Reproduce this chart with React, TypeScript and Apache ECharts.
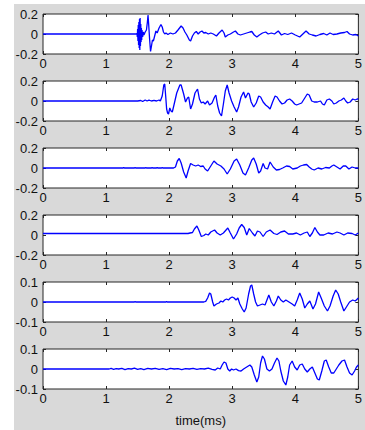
import React, { useEffect, useRef } from "react";
import * as echarts from "echarts";

const timeTicks = [0, 1, 2, 3, 4, 5];
const wideRange = [-0.2, 0.2];
const narrowRange = [-0.1, 0.1];
const xTitle = "time(ms)";

const trace1: number[][] = [
  [0, 0], [1.48, 0], [1.49, 0.005], [1.495, -0.03], [1.5, 0.05], [1.505, -0.07], [1.51, 0.09], [1.515, -0.11],
  [1.52, 0.12], [1.525, -0.14], [1.53, 0.15], [1.535, -0.16], [1.54, 0.16], [1.545, -0.12], [1.55, 0.1],
  [1.555, -0.08], [1.56, 0.06], [1.565, -0.06], [1.57, 0.04], [1.58, -0.03], [1.59, 0.02], [1.6, -0.01],
  [1.62, 0.02], [1.64, 0.04], [1.655, 0.12], [1.665, 0.19], [1.675, 0.1], [1.69, -0.05], [1.705, -0.175],
  [1.72, -0.12], [1.735, -0.06], [1.75, -0.07], [1.77, -0.02], [1.79, 0.03], [1.81, 0.01], [1.84, 0.06],
  [1.87, 0.095], [1.89, 0.07], [1.91, 0.02], [1.93, 0.0], [1.95, 0.01], [1.98, -0.005], [2.02, 0.01],
  [2.06, 0.0], [2.1, 0.01], [2.14, 0.04], [2.19, 0.08], [2.22, 0.06], [2.25, 0.02], [2.28, -0.01],
  [2.32, -0.06], [2.34, -0.07], [2.37, -0.02], [2.4, 0.01], [2.43, 0.025], [2.46, 0.0], [2.49, 0.02],
  [2.52, 0.03], [2.55, 0.01], [2.58, 0.015], [2.62, 0.0], [2.66, 0.01], [2.7, 0.0], [2.75, -0.02],
  [2.79, 0.01], [2.84, 0.04], [2.87, 0.01], [2.89, -0.03], [2.93, -0.01], [2.97, 0.0], [3.02, 0.02],
  [3.05, 0.03], [3.09, 0.0], [3.13, -0.01], [3.18, 0.0], [3.23, 0.01], [3.28, 0.02], [3.31, 0.025],
  [3.35, -0.01], [3.39, -0.03], [3.43, -0.01], [3.48, 0.01], [3.53, 0.02], [3.57, 0.0], [3.62, 0.01],
  [3.67, 0.0], [3.73, 0.03], [3.78, -0.01], [3.83, 0.005], [3.88, -0.005], [3.94, 0.01], [4.0, -0.01],
  [4.07, -0.03], [4.12, 0.0], [4.17, 0.03], [4.22, 0.0], [4.27, -0.01], [4.33, -0.02], [4.39, -0.005],
  [4.45, 0.005], [4.5, -0.01], [4.55, 0.01], [4.6, -0.005], [4.66, 0.0], [4.72, 0.01], [4.78, 0.015],
  [4.82, 0.025], [4.86, 0.0], [4.91, -0.01], [4.96, -0.005], [5.0, -0.02],
];

const trace2: number[][] = [
  [0, 0], [1.5, 0], [1.55, 0.005], [1.58, -0.005], [1.62, 0.01], [1.65, 0.0], [1.68, 0.008], [1.72, 0.0],
  [1.76, 0.006], [1.8, 0.0], [1.84, 0.01], [1.86, 0.0], [1.89, 0.05], [1.915, 0.16], [1.93, 0.17],
  [1.945, 0.05], [1.96, -0.08], [1.975, -0.12], [1.99, -0.13], [2.01, -0.07], [2.03, -0.1], [2.05, -0.11],
  [2.08, -0.03], [2.12, 0.08], [2.17, 0.16], [2.19, 0.16], [2.23, 0.07], [2.26, -0.01], [2.29, 0.03],
  [2.31, 0.04], [2.34, -0.08], [2.37, -0.03], [2.41, 0.08], [2.45, 0.12], [2.48, 0.02], [2.51, -0.02],
  [2.54, -0.01], [2.57, -0.03], [2.61, 0.0], [2.64, -0.04], [2.68, -0.02], [2.72, 0.04], [2.74, 0.06],
  [2.77, -0.05], [2.8, -0.12], [2.83, -0.15], [2.86, -0.03], [2.89, 0.1], [2.92, 0.16], [2.95, 0.08],
  [2.99, 0.0], [3.03, -0.06], [3.07, -0.11], [3.1, -0.06], [3.14, 0.04], [3.18, 0.09], [3.21, 0.03],
  [3.25, 0.08], [3.27, 0.07], [3.3, -0.01], [3.34, -0.06], [3.38, -0.02], [3.42, 0.05], [3.45, 0.04],
  [3.49, -0.01], [3.53, -0.04], [3.57, -0.06], [3.6, -0.08], [3.64, -0.01], [3.68, 0.05], [3.71, 0.04],
  [3.75, 0.0], [3.79, -0.03], [3.83, -0.02], [3.87, 0.01], [3.91, 0.02], [3.95, 0.0], [3.99, -0.03],
  [4.02, -0.04], [4.06, -0.03], [4.1, -0.02], [4.14, 0.02], [4.19, 0.07], [4.22, 0.06], [4.26, 0.0],
  [4.3, -0.01], [4.35, -0.01], [4.4, 0.0], [4.43, -0.03], [4.46, -0.04], [4.5, 0.01], [4.54, 0.02],
  [4.58, 0.0], [4.61, -0.03], [4.65, -0.02], [4.69, 0.0], [4.73, 0.01], [4.77, 0.03], [4.8, 0.0],
  [4.83, -0.02], [4.87, -0.01], [4.91, 0.02], [4.95, 0.01], [4.98, 0.02], [5.0, 0.02],
];

const trace3: number[][] = [
  [0, 0], [1.27, 0], [1.28, 0.006], [1.29, 0], [1.45, 0], [1.46, 0.005], [1.47, 0], [1.62, 0], [1.63, 0.004],
  [1.64, 0], [1.72, 0], [1.73, 0.005], [1.74, 0], [1.8, 0], [1.81, 0.006], [1.82, 0], [1.88, 0], [1.89, 0.004],
  [1.9, 0], [2.07, 0], [2.1, 0.01], [2.13, 0.07], [2.16, 0.095], [2.19, 0.05], [2.23, -0.04], [2.27, -0.1],
  [2.3, -0.03], [2.34, 0.045], [2.38, 0.03], [2.42, 0.02], [2.46, 0.03], [2.5, 0.015], [2.54, 0.02],
  [2.57, -0.01], [2.61, -0.03], [2.66, 0.02], [2.71, 0.07], [2.76, 0.04], [2.82, 0.02], [2.87, -0.01],
  [2.92, -0.06], [2.97, -0.01], [3.03, 0.07], [3.07, 0.09], [3.12, 0.03], [3.17, -0.05], [3.21, -0.07],
  [3.26, 0.0], [3.31, 0.08], [3.34, 0.1], [3.38, 0.04], [3.42, -0.05], [3.45, -0.03], [3.49, 0.045],
  [3.52, 0.0], [3.56, -0.01], [3.6, 0.06], [3.65, 0.01], [3.7, -0.02], [3.75, -0.015], [3.8, 0.0],
  [3.86, 0.02], [3.91, 0.015], [3.96, -0.01], [4.03, 0.0], [4.08, 0.02], [4.13, 0.03], [4.18, 0.035],
  [4.22, 0.01], [4.26, -0.01], [4.3, -0.02], [4.36, 0.0], [4.42, -0.01], [4.48, 0.005], [4.54, 0.0],
  [4.58, 0.02], [4.61, 0.03], [4.66, 0.01], [4.71, -0.01], [4.76, 0.02], [4.8, 0.02], [4.85, -0.01],
  [4.9, 0.01], [4.95, 0.0], [5.0, 0.0],
];

const trace4: number[][] = [
  [0, 0.015], [2.3, 0.015], [2.33, 0.02], [2.37, 0.025], [2.4, 0.06], [2.44, 0.09], [2.47, 0.05],
  [2.51, -0.015], [2.55, -0.005], [2.58, 0.01], [2.62, 0.0], [2.66, 0.03], [2.72, 0.05], [2.76, 0.02],
  [2.81, 0.0], [2.86, 0.02], [2.93, 0.07], [2.97, 0.02], [3.02, -0.04], [3.07, 0.01], [3.11, 0.07],
  [3.15, 0.105], [3.19, 0.075], [3.23, 0.0], [3.27, 0.065], [3.32, 0.02], [3.36, -0.01], [3.4, 0.04],
  [3.44, 0.03], [3.49, -0.015], [3.54, 0.03], [3.6, 0.05], [3.66, 0.015], [3.71, 0.005], [3.77, 0.03],
  [3.83, 0.04], [3.89, 0.01], [3.96, 0.01], [4.02, 0.02], [4.08, 0.0], [4.14, 0.02], [4.19, 0.03],
  [4.23, -0.015], [4.27, 0.02], [4.31, 0.075], [4.35, 0.03], [4.39, 0.0], [4.45, 0.0], [4.52, 0.02],
  [4.59, 0.01], [4.66, 0.03], [4.71, 0.02], [4.77, 0.0], [4.83, 0.02], [4.9, 0.015], [4.95, 0.0], [5.0, 0.02],
];

const trace5: number[][] = [
  [0, 0], [1.45, 0], [1.46, 0.002], [1.47, 0], [1.95, 0], [1.96, 0.002], [1.97, 0], [2.45, 0], [2.5, 0.001],
  [2.55, 0.0], [2.58, 0.003], [2.61, 0.02], [2.64, 0.045], [2.66, 0.04], [2.69, 0.0], [2.71, -0.02],
  [2.75, -0.01], [2.79, -0.005], [2.82, 0.005], [2.85, 0.0], [2.88, 0.01], [2.91, 0.015], [2.94, 0.01],
  [2.97, 0.02], [3.0, 0.025], [3.03, 0.02], [3.06, 0.01], [3.09, 0.02], [3.12, -0.01], [3.16, -0.035],
  [3.19, -0.05], [3.22, -0.03], [3.26, 0.04], [3.29, 0.08], [3.31, 0.085], [3.34, 0.04], [3.37, 0.0],
  [3.4, -0.02], [3.44, -0.015], [3.48, -0.01], [3.52, -0.015], [3.55, 0.01], [3.58, 0.035], [3.62, 0.0],
  [3.66, -0.02], [3.7, 0.005], [3.73, 0.03], [3.77, 0.01], [3.81, 0.0], [3.85, 0.01], [3.9, 0.0],
  [3.95, -0.01], [3.99, -0.02], [4.03, 0.01], [4.07, 0.045], [4.11, 0.015], [4.15, -0.03], [4.19, -0.01],
  [4.23, 0.005], [4.28, -0.035], [4.32, -0.01], [4.37, 0.05], [4.41, 0.02], [4.46, -0.02], [4.51, -0.045],
  [4.55, -0.02], [4.6, 0.03], [4.64, 0.06], [4.68, 0.04], [4.72, 0.0], [4.77, -0.045], [4.81, -0.025],
  [4.86, 0.0], [4.91, 0.01], [4.95, 0.005], [5.0, 0.02],
];

const trace6: number[][] = [
  [0, 0], [1.05, 0], [1.08, 0.003], [1.12, -0.002], [1.16, 0.002], [1.2, 0.0], [1.25, 0.003], [1.3, -0.003],
  [1.35, 0.002], [1.4, 0.0], [1.45, 0.004], [1.5, -0.002], [1.55, 0.002], [1.6, -0.003], [1.66, 0.003],
  [1.72, 0.0], [1.78, 0.003], [1.84, -0.002], [1.9, 0.002], [1.96, -0.003], [2.02, 0.003], [2.08, 0.0],
  [2.14, 0.002], [2.2, -0.003], [2.26, 0.002], [2.32, 0.0], [2.38, 0.003], [2.44, -0.002], [2.5, 0.002],
  [2.56, 0.0], [2.62, 0.004], [2.68, -0.002], [2.73, -0.005], [2.77, 0.005], [2.81, 0.0], [2.84, 0.02],
  [2.87, 0.035], [2.9, 0.03], [2.93, 0.0], [2.96, -0.01], [2.99, 0.0], [3.02, -0.005], [3.06, 0.0],
  [3.1, -0.008], [3.14, -0.01], [3.18, 0.0], [3.23, 0.01], [3.28, 0.02], [3.31, 0.01], [3.35, -0.03],
  [3.39, -0.065], [3.42, -0.04], [3.45, 0.03], [3.48, 0.065], [3.51, 0.05], [3.55, 0.0], [3.59, -0.01],
  [3.63, 0.0], [3.67, 0.03], [3.71, 0.055], [3.74, 0.04], [3.77, -0.01], [3.81, -0.06], [3.85, -0.08],
  [3.88, -0.04], [3.91, 0.02], [3.95, 0.04], [3.99, 0.01], [4.03, -0.005], [4.07, 0.02], [4.11, 0.025],
  [4.15, 0.0], [4.19, -0.015], [4.23, 0.0], [4.27, 0.01], [4.31, -0.02], [4.35, -0.05], [4.38, -0.055],
  [4.42, -0.01], [4.46, 0.04], [4.49, 0.045], [4.53, 0.01], [4.57, -0.02], [4.61, -0.02], [4.65, 0.0],
  [4.69, 0.02], [4.74, 0.04], [4.78, 0.045], [4.82, 0.01], [4.86, -0.02], [4.9, -0.03], [4.94, -0.01],
  [4.97, 0.01], [5.0, 0.02],
];

const traces = [trace1, trace2, trace3, trace4, trace5, trace6];
const ranges = [wideRange, wideRange, wideRange, wideRange, narrowRange, narrowRange];

export default function App() {
  const ref = useRef<HTMLDivElement>(null);

  useEffect(() => {
    if (!ref.current) return;
    const chart = echarts.init(ref.current, null, { renderer: "svg" });
    const font = "'Liberation Sans', Arial, sans-serif";
    const textColor = "#111111";
    const axisColor = "#262626";
    const tickStyle = { show: true, inside: true, length: 3, lineStyle: { color: axisColor, width: 1 } };
    const noLine = { show: false, onZero: false };
    const grids: any[] = [];
    const xAxes: any[] = [];
    const yAxes: any[] = [];
    const series: any[] = [];
    const n = traces.length;
    const xInterval = timeTicks[1] - timeTicks[0];
    traces.forEach((tr, i) => {
      const top = 14 + 67 * i;
      grids.push({
        left: 43,
        top,
        width: 320,
        height: 40,
        show: true,
        backgroundColor: "#ffffff",
        borderColor: axisColor,
        borderWidth: 1,
      });
      const r = ranges[i];
      const yInterval = r[1];
      xAxes.push({
        type: "value",
        gridIndex: i,
        position: "bottom",
        min: timeTicks[0],
        max: timeTicks[timeTicks.length - 1],
        interval: xInterval,
        axisLine: noLine,
        axisTick: tickStyle,
        splitLine: { show: false },
        axisLabel: { margin: 3, fontSize: 13, fontFamily: font, color: textColor, showMaxLabel: true, showMinLabel: true },
        ...(i === n - 1
          ? {
              name: xTitle,
              nameLocation: "middle",
              nameGap: 25,
              nameTextStyle: { fontSize: 13, fontFamily: font, color: textColor },
            }
          : {}),
      });
      xAxes.push({
        type: "value",
        gridIndex: i,
        position: "top",
        min: timeTicks[0],
        max: timeTicks[timeTicks.length - 1],
        interval: xInterval,
        axisLine: noLine,
        axisTick: tickStyle,
        splitLine: { show: false },
        axisLabel: { show: false },
      });
      yAxes.push({
        type: "value",
        gridIndex: i,
        position: "left",
        min: r[0],
        max: r[1],
        interval: yInterval,
        axisLine: noLine,
        axisTick: tickStyle,
        splitLine: { show: false },
        axisLabel: { margin: 5, fontSize: 13, fontFamily: font, color: textColor },
      });
      yAxes.push({
        type: "value",
        gridIndex: i,
        position: "right",
        min: r[0],
        max: r[1],
        interval: yInterval,
        axisLine: noLine,
        axisTick: tickStyle,
        splitLine: { show: false },
        axisLabel: { show: false },
      });
      series.push({
        type: "line",
        xAxisIndex: i * 2,
        yAxisIndex: i * 2,
        data: tr,
        showSymbol: false,
        symbol: "none",
        clip: true,
        lineStyle: { color: "#0000ff", width: 1.3 },
      });
    });

    chart.setOption({
      animation: false,
      backgroundColor: "#d9d9d9",
      grid: grids,
      xAxis: xAxes,
      yAxis: yAxes,
      series,
      graphic: [
        { type: "rect", shape: { x: 0, y: 0, width: 14, height: 430 }, style: { fill: "#ffffff" }, silent: true },
        { type: "rect", shape: { x: 0, y: 0, width: 365, height: 4 }, style: { fill: "#ffffff" }, silent: true },
      ],
    });
    return () => chart.dispose();
  }, []);

  return (
    <div
      ref={ref}
      style={{ position: "absolute", left: 0, top: 0, width: 365, height: 430 }}
    />
  );
}
